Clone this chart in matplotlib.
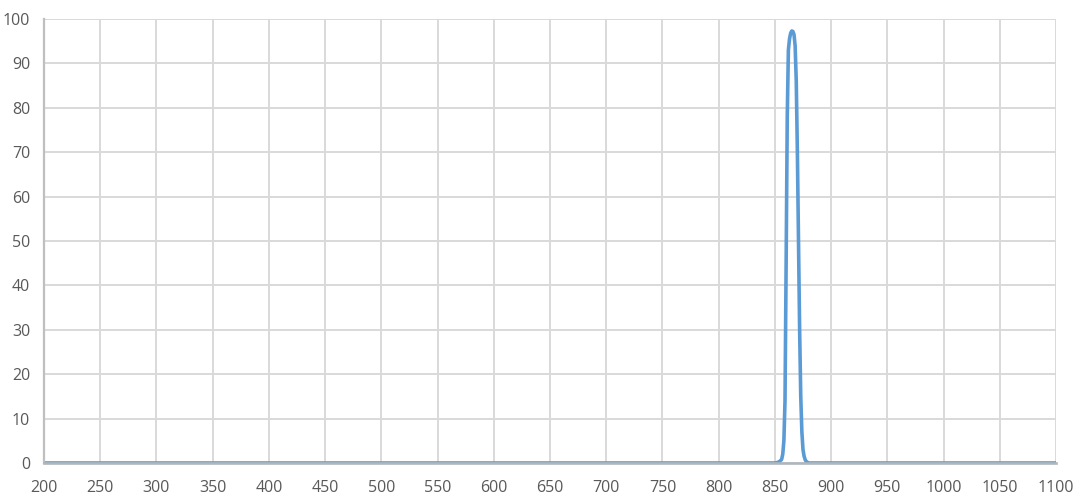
import matplotlib
matplotlib.use("Agg")
import matplotlib.pyplot as plt

wavelength = [200, 500, 850, 852, 854, 856, 857, 858, 859, 860, 861, 862, 863, 864,
              865, 866, 867, 868, 869, 870, 871, 872, 873, 874, 875, 876, 877,
              878, 880, 900, 1100]
transmission = [0.0, 0.0, 0.0, 0.1, 0.3, 0.8, 2.0, 5.0, 14.0, 45.0, 78.0, 93.0, 95.5,
                96.8, 97.3, 97.2, 96.5, 94.0, 86.0, 70.0, 50.0, 30.0, 15.0, 7.0,
                3.0, 1.5, 0.7, 0.3, 0.0, 0.0, 0.0]

x_ticks = list(range(200, 1101, 50))
y_ticks = list(range(0, 101, 10))

plt.rcParams['font.family'] = ['Open Sans', 'DejaVu Sans']

fig = plt.figure(figsize=(10.8, 5.0), dpi=100)
ax = fig.add_axes([44/1080, 37/500, (1056-44)/1080, (463-19)/500])

ax.plot(wavelength, transmission, color='#5b9bd5', linewidth=2.6, zorder=2,
        solid_joinstyle='round', solid_capstyle='round')

ax.set_xlim(200, 1100)
ax.set_ylim(0, 100)
ax.set_xticks(x_ticks)
ax.set_yticks(y_ticks)
ax.grid(True, color='#d9d9d9', linewidth=1.4, zorder=0)
ax.set_axisbelow(True)

for s in ['top', 'right']:
    ax.spines[s].set_visible(False)
ax.spines['left'].set_color('#bfbfbf')
ax.spines['left'].set_linewidth(1.6)
ax.spines['bottom'].set_color('#b0b6bb')
ax.spines['bottom'].set_linewidth(1.9)
ax.spines['bottom'].set_zorder(3)

ax.tick_params(axis='both', length=0, labelsize=11.5, colors='#595959')
ax.tick_params(axis='x', pad=12)
ax.tick_params(axis='y', pad=10)

fig.savefig('out.png', dpi=100, facecolor='white')
